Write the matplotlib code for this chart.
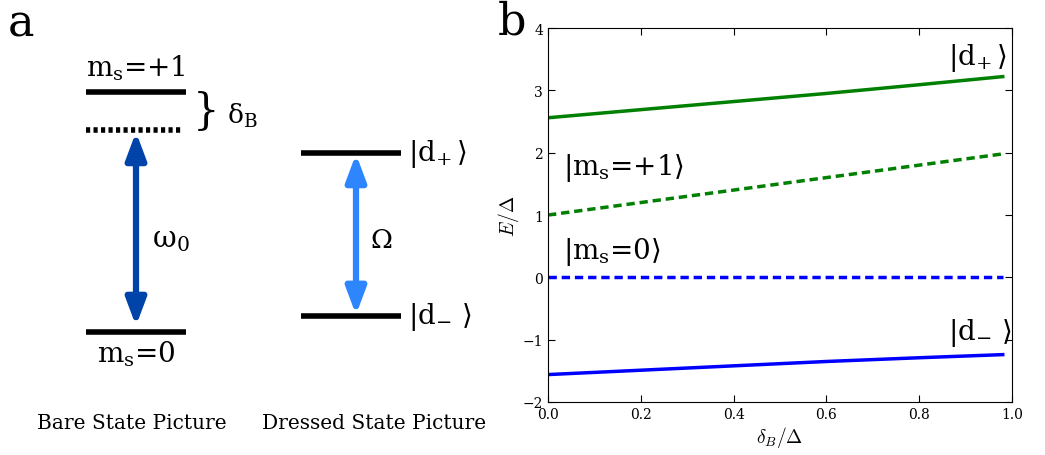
import matplotlib.pyplot as plt
import numpy as np

plt.rcParams['font.family'] = ['DejaVu Serif']
plt.rcParams['mathtext.fontset'] = 'cm'

# panel b: energies vs detuning
delta = [0.0, 0.2, 0.4, 0.6, 0.8, 0.98]
E_dplus = [2.56, 2.69, 2.82, 2.95, 3.09, 3.22]
E_ms1 = [1.0, 1.2, 1.4, 1.6, 1.8, 1.98]
E_ms0 = [0.0, 0.0, 0.0, 0.0, 0.0, 0.0]
E_dminus = [-1.56, -1.49, -1.42, -1.35, -1.29, -1.24]

xticks = [0.0, 0.2, 0.4, 0.6, 0.8, 1.0]
yticks = [-2, -1, 0, 1, 2, 3, 4]

# panel a: level diagram (arbitrary units, ms=0 at 0, omega_0 at 1)
bare_levels = [0.0, 1.19]      # ms=0, ms=+1
bare_ref = 1.0                 # dotted level (ms=0 + omega_0)
dressed_levels = [0.08, 0.886] # |d->, |d+>

# labels, tight '=' like the original (plain text + mathtext subscripts)
lab_ms1 = 'm$_\\mathrm{s}$=+1'
lab_ms0 = 'm$_\\mathrm{s}$=0'
lab_dp = '|d$_{\\!+}\\rangle$'
lab_dm = '|d$_{\\!-}\\,\\rangle$'

fig = plt.figure(figsize=(10.45, 4.56), dpi=100)

# ---------- panel a ----------
axa = fig.add_axes([0, 0, 500/1045, 1])
axa.set_xlim(0, 500)
axa.set_ylim((333-456)/202, 333/202)
axa.axis('off')

bare_x = (86, 186)
dres_x = (301, 401)
axa.plot(bare_x, [bare_levels[0]]*2, color='k', lw=4, solid_capstyle='butt')
axa.plot(bare_x, [bare_levels[1]]*2, color='k', lw=4, solid_capstyle='butt')
axa.plot((86, 182), [bare_ref]*2, color='k', lw=4, ls=(0, (0.75, 0.6)), dash_capstyle='butt')
for lv in dressed_levels:
    axa.plot(dres_x, [lv]*2, color='k', lw=4, solid_capstyle='butt')

# arrows
axa.annotate('', xy=(136, bare_levels[0] + 0.03), xytext=(136, bare_ref - 0.01),
             arrowprops=dict(arrowstyle='<|-|>,head_length=1.6,head_width=0.6',
                             color='#0044aa', lw=4.5, shrinkA=0, shrinkB=0))
axa.annotate('', xy=(356, dressed_levels[0] + 0.005), xytext=(356, dressed_levels[1] - 0.005),
             arrowprops=dict(arrowstyle='<|-|>,head_length=1.6,head_width=0.6',
                             color='#2e86ff', lw=4.5, shrinkA=0, shrinkB=0))

mkw = dict(math_fontfamily='dejavuserif')
axa.text(136, bare_levels[1] + 0.05, lab_ms1, fontsize=20,
         ha='center', va='bottom', **mkw)
axa.text(136, bare_levels[0] - 0.03, lab_ms0, fontsize=20,
         ha='center', va='top', **mkw)
axa.text(152, 0.46, 'ω$_\\mathrm{0}$', fontsize=21, ha='left', va='center', **mkw)
axa.text(370, 0.46, 'Ω', fontsize=19, ha='left', va='center', **mkw)
axa.text(193, (bare_levels[1] + bare_ref)/2, '}', fontsize=30, ha='left', va='center')
axa.text(227, (bare_levels[1] + bare_ref)/2 - 0.02, 'δ$_\\mathrm{B}$', fontsize=19,
         ha='left', va='center', **mkw)
axa.text(408, dressed_levels[1], lab_dp, fontsize=20, ha='left', va='center', **mkw)
axa.text(408, dressed_levels[0], lab_dm, fontsize=20, ha='left', va='center', **mkw)

axa.text(132, (333-424)/202, 'Bare State Picture', fontsize=14.5, ha='center', va='center')
axa.text(374, (333-424)/202, 'Dressed State Picture', fontsize=14.5, ha='center', va='center')
fig.text(8/1045, 1 - 24/456, 'a', fontsize=32, ha='left', va='center')
fig.text(498/1045, 1 - 22/456, 'b', fontsize=32, ha='left', va='center')

# ---------- panel b ----------
ax = fig.add_axes([548/1045, 53/456, 464/1045, 374/456])
ax.plot(delta, E_dplus, color='green', lw=2.5)
ax.plot(delta, E_ms1, color='green', lw=2.5, ls=(0, (2.4, 1.4)))
ax.plot(delta, E_ms0, color='blue', lw=2.5, ls=(0, (2.4, 1.4)))
ax.plot(delta, E_dminus, color='blue', lw=2.5)

ax.set_xlim(0, 1)
ax.set_ylim(-2, 4)
ax.set_xticks(xticks)
ax.set_yticks(yticks)
ax.tick_params(direction='in', top=True, right=True, labelsize=10, length=5)
ax.set_xlabel(r'$\delta_B/\Delta$', fontsize=14, labelpad=2)
ax.set_ylabel(r'$E/\Delta$', fontsize=14, labelpad=1)

ax.text(0.862, 3.53, lab_dp, fontsize=20, ha='left', va='center', **mkw)
ax.text(0.032, 1.77, '|' + lab_ms1 + '$\\rangle$', fontsize=20, ha='left', va='center', **mkw)
ax.text(0.032, 0.42, '|' + lab_ms0 + '$\\rangle$', fontsize=20, ha='left', va='center', **mkw)
ax.text(0.862, -0.88, lab_dm, fontsize=20, ha='left', va='center', **mkw)

fig.savefig('out.png', dpi=100)
